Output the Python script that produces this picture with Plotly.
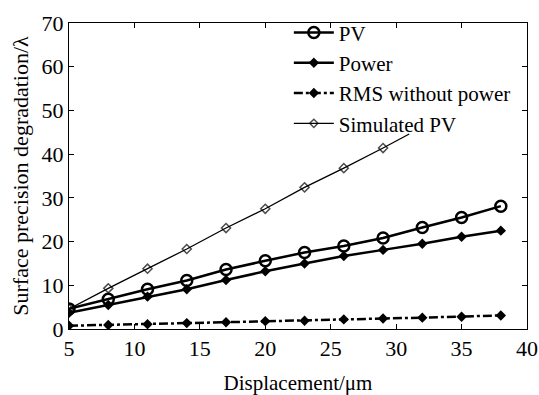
import plotly.graph_objects as go

x_meas = [5, 8, 11, 14, 17, 20, 23, 26, 29, 32, 35, 38]
pv = [4.6, 6.8, 9.1, 11.1, 13.6, 15.6, 17.5, 19.0, 20.8, 23.2, 25.5, 28.1]
power = [3.7, 5.5, 7.4, 9.1, 11.2, 13.2, 15.0, 16.7, 18.1, 19.5, 21.1, 22.5]
rms = [0.75, 0.9, 1.1, 1.35, 1.55, 1.8, 1.9, 2.2, 2.4, 2.6, 2.8, 3.1]
x_sim = [5, 8, 11, 14, 17, 20, 23, 26, 29, 31]
sim_pv = [4.6, 9.3, 13.8, 18.3, 23.1, 27.5, 32.4, 36.8, 41.4, 44.6]
sim_marker_sizes = [7] * 9 + [0]

FONT = "Liberation Serif"

fig = go.Figure()
fig.add_trace(go.Scatter(x=x_meas, y=pv, name="PV", mode="lines+markers",
                         line=dict(color="black", width=2.5),
                         marker=dict(symbol="circle-open", size=11, color="black",
                                     line=dict(width=2.5, color="black"))))
fig.add_trace(go.Scatter(x=x_meas, y=power, name="Power", mode="lines+markers",
                         line=dict(color="black", width=2.5),
                         marker=dict(symbol="diamond", size=8, color="black")))
fig.add_trace(go.Scatter(x=x_meas, y=rms, name="RMS without power", mode="lines+markers",
                         line=dict(color="black", width=2.5, dash="dashdot"),
                         marker=dict(symbol="diamond", size=8, color="black")))
fig.add_trace(go.Scatter(x=x_sim, y=sim_pv, name="Simulated PV", mode="lines+markers",
                         line=dict(color="black", width=1.3),
                         marker=dict(symbol="diamond-open", size=sim_marker_sizes, color="black",
                                     line=dict(width=1.5, color="black"))))

axis_common = dict(showline=True, linecolor="black", linewidth=1, mirror="ticks",
                   ticks="inside", ticklen=5, tickcolor="black", showgrid=False,
                   zeroline=False, automargin=False,
                   tickfont=dict(family=FONT, size=22, color="black"))

fig.update_layout(
    width=539, height=395,
    margin=dict(l=69, r=12, t=16, b=66),
    paper_bgcolor="white", plot_bgcolor="white",
    font=dict(family=FONT, size=22, color="black"),
    xaxis=dict(range=[5, 40], dtick=5, tick0=5,
               title=dict(text="Displacement/μm", font=dict(family=FONT, size=21), standoff=14),
               **axis_common),
    yaxis=dict(range=[0, 70], dtick=10,
               title=dict(text="Surface precision degradation/λ", font=dict(family=FONT, size=22), standoff=6),
               **axis_common),
    legend=dict(x=0.48, y=1.035, xanchor="left", yanchor="top", bgcolor="rgba(0,0,0,0)",
                font=dict(family=FONT, size=21), tracegroupgap=0, itemwidth=40),
    showlegend=True,
)

fig.write_html("out.html")
